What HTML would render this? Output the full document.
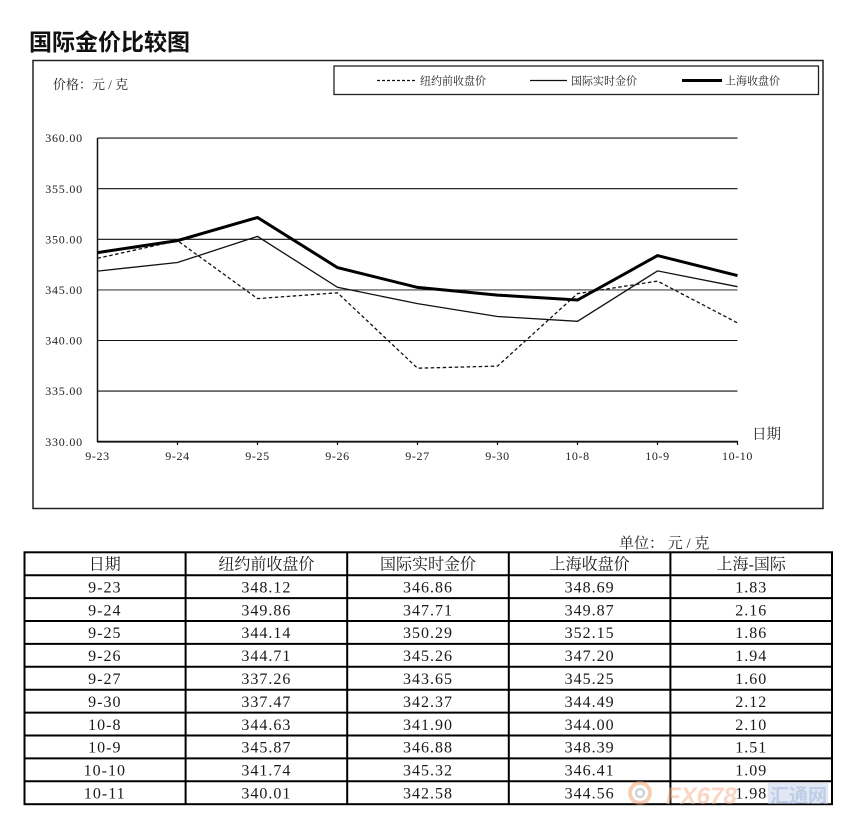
<!DOCTYPE html>
<html><head><meta charset="utf-8"><style>
html,body{margin:0;padding:0;background:#fff;}
body{width:845px;height:829px;overflow:hidden;}
svg{display:block;}
.s{font-family:"Liberation Serif","Noto Serif CJK SC",serif;}
</style></head><body>
<svg width="845" height="829" viewBox="0 0 845 829" xmlns="http://www.w3.org/2000/svg">
<rect width="845" height="829" fill="#fff"/>
<text x="29" y="50" font-family="'Liberation Sans','Noto Sans CJK SC',sans-serif" font-size="23" font-weight="bold" fill="#111">国际金价比较图</text>
<rect x="33" y="60.5" width="790" height="448" fill="none" stroke="#222" stroke-width="1.5"/>
<text class="s" x="53" y="89" font-size="13" fill="#222">价格：元 / 克</text>
<rect x="334" y="66" width="484.5" height="28.5" fill="none" stroke="#222" stroke-width="1.3"/>
<line x1="377" y1="80.5" x2="417" y2="80.5" stroke="#111" stroke-width="1.3" stroke-dasharray="3,2"/>
<text class="s" x="420" y="84.5" font-size="11" fill="#222">纽约前收盘价</text>
<line x1="530" y1="80.5" x2="567" y2="80.5" stroke="#111" stroke-width="1.3"/>
<text class="s" x="571" y="84.5" font-size="11" fill="#222">国际实时金价</text>
<line x1="682" y1="80.5" x2="722" y2="80.5" stroke="#000" stroke-width="3"/>
<text class="s" x="725" y="84.5" font-size="11" fill="#222">上海收盘价</text>
<g stroke="#111" stroke-width="1.1">
<line x1="97.5" y1="138.1" x2="737.5" y2="138.1"/>
<line x1="97.5" y1="188.7" x2="737.5" y2="188.7"/>
<line x1="97.5" y1="239.3" x2="737.5" y2="239.3"/>
<line x1="97.5" y1="289.9" x2="737.5" y2="289.9" stroke="#444"/>
<line x1="97.5" y1="340.5" x2="737.5" y2="340.5"/>
<line x1="97.5" y1="391.1" x2="737.5" y2="391.1"/>
</g>
<line x1="97.5" y1="138" x2="97.5" y2="442" stroke="#111" stroke-width="1.5"/>
<line x1="97" y1="441.7" x2="738" y2="441.7" stroke="#111" stroke-width="1.8"/>
<g stroke="#111" stroke-width="1.2">
<line x1="177.5" y1="441" x2="177.5" y2="445"/><line x1="257.5" y1="441" x2="257.5" y2="445"/>
<line x1="337.5" y1="441" x2="337.5" y2="445"/><line x1="417.5" y1="441" x2="417.5" y2="445"/>
<line x1="497.5" y1="441" x2="497.5" y2="445"/><line x1="577.5" y1="441" x2="577.5" y2="445"/>
<line x1="657.5" y1="441" x2="657.5" y2="445"/><line x1="737.5" y1="441" x2="737.5" y2="445"/>
</g>
<g class="s" font-size="12" fill="#222" text-anchor="end" letter-spacing="0.8">
<text x="83" y="142">360.00</text><text x="83" y="193">355.00</text><text x="83" y="243.5">350.00</text>
<text x="83" y="294">345.00</text><text x="83" y="344.5">340.00</text><text x="83" y="395">335.00</text>
<text x="83" y="446">330.00</text>
</g>
<g class="s" font-size="12" fill="#222" text-anchor="middle" letter-spacing="0.6">
<text x="97.5" y="460">9-23</text><text x="177.5" y="460">9-24</text><text x="257.5" y="460">9-25</text>
<text x="337.5" y="460">9-26</text><text x="417.5" y="460">9-27</text><text x="497.5" y="460">9-30</text>
<text x="577.5" y="460">10-8</text><text x="657.5" y="460">10-9</text><text x="737.5" y="460">10-10</text>
</g>
<text class="s" x="752" y="439" font-size="14.5" fill="#222">日期</text>
<polyline fill="none" stroke="#111" stroke-width="1.3" stroke-dasharray="3.5,2.5" points="97.5,258.3 177.5,240.7 257.5,298.6 337.5,292.8 417.5,368.2 497.5,366.1 577.5,293.6 657.5,281.1 737.5,322.9"/>
<polyline fill="none" stroke="#111" stroke-width="1.3" points="97.5,271.1 177.5,262.5 257.5,236.4 337.5,287.3 417.5,303.6 497.5,316.5 577.5,321.3 657.5,270.9 737.5,286.7"/>
<polyline fill="none" stroke="#000" stroke-width="3" stroke-linejoin="miter" points="97.5,252.6 177.5,240.6 257.5,217.5 337.5,267.6 417.5,287.4 497.5,295.1 577.5,300.0 657.5,255.6 737.5,275.6"/>
<text class="s" x="619" y="548" font-size="15" fill="#222">单位： 元 / 克</text>
<g class="s" font-size="16" fill="#1a1a1a" text-anchor="middle">
<text x="104.8" y="569.5">日期</text><text x="266.4" y="569.5">纽约前收盘价</text><text x="428" y="569.5">国际实时金价</text><text x="589.6" y="569.5">上海收盘价</text><text x="751.2" y="569.5">上海-国际</text>
</g>
<g class="s" font-size="16" fill="#1a1a1a" text-anchor="middle" letter-spacing="1">
<text x="104.8" y="592.4">9-23</text><text x="266.4" y="592.4">348.12</text><text x="428" y="592.4">346.86</text><text x="589.6" y="592.4">348.69</text><text x="751.2" y="592.4">1.83</text>
<text x="104.8" y="615.3">9-24</text><text x="266.4" y="615.3">349.86</text><text x="428" y="615.3">347.71</text><text x="589.6" y="615.3">349.87</text><text x="751.2" y="615.3">2.16</text>
<text x="104.8" y="638.2">9-25</text><text x="266.4" y="638.2">344.14</text><text x="428" y="638.2">350.29</text><text x="589.6" y="638.2">352.15</text><text x="751.2" y="638.2">1.86</text>
<text x="104.8" y="661.1">9-26</text><text x="266.4" y="661.1">344.71</text><text x="428" y="661.1">345.26</text><text x="589.6" y="661.1">347.20</text><text x="751.2" y="661.1">1.94</text>
<text x="104.8" y="684">9-27</text><text x="266.4" y="684">337.26</text><text x="428" y="684">343.65</text><text x="589.6" y="684">345.25</text><text x="751.2" y="684">1.60</text>
<text x="104.8" y="706.9">9-30</text><text x="266.4" y="706.9">337.47</text><text x="428" y="706.9">342.37</text><text x="589.6" y="706.9">344.49</text><text x="751.2" y="706.9">2.12</text>
<text x="104.8" y="729.8">10-8</text><text x="266.4" y="729.8">344.63</text><text x="428" y="729.8">341.90</text><text x="589.6" y="729.8">344.00</text><text x="751.2" y="729.8">2.10</text>
<text x="104.8" y="752.7">10-9</text><text x="266.4" y="752.7">345.87</text><text x="428" y="752.7">346.88</text><text x="589.6" y="752.7">348.39</text><text x="751.2" y="752.7">1.51</text>
<text x="104.8" y="775.6">10-10</text><text x="266.4" y="775.6">341.74</text><text x="428" y="775.6">345.32</text><text x="589.6" y="775.6">346.41</text><text x="751.2" y="775.6">1.09</text>
<text x="104.8" y="798.5">10-11</text><text x="266.4" y="798.5">340.01</text><text x="428" y="798.5">342.58</text><text x="589.6" y="798.5">344.56</text><text x="751.2" y="798.5">1.98</text>
</g>
<g stroke="#000" stroke-width="2" fill="none">
<rect x="24.5" y="552.3" width="807.5" height="251.9"/>
<line x1="185.6" y1="552.3" x2="185.6" y2="804.2"/><line x1="347.2" y1="552.3" x2="347.2" y2="804.2"/>
<line x1="508.8" y1="552.3" x2="508.8" y2="804.2"/><line x1="670.4" y1="552.3" x2="670.4" y2="804.2"/>
<line x1="24.5" y1="575.2" x2="832" y2="575.2"/><line x1="24.5" y1="598.1" x2="832" y2="598.1"/>
<line x1="24.5" y1="621" x2="832" y2="621"/><line x1="24.5" y1="643.9" x2="832" y2="643.9"/>
<line x1="24.5" y1="666.8" x2="832" y2="666.8"/><line x1="24.5" y1="689.7" x2="832" y2="689.7"/>
<line x1="24.5" y1="712.6" x2="832" y2="712.6"/><line x1="24.5" y1="735.5" x2="832" y2="735.5"/>
<line x1="24.5" y1="758.4" x2="832" y2="758.4"/><line x1="24.5" y1="781.3" x2="832" y2="781.3"/>
</g>
<g opacity="0.5">
<circle cx="640" cy="793" r="10" fill="none" stroke="#f0a070" stroke-width="4"/>
<circle cx="640" cy="793" r="4" fill="none" stroke="#9ab" stroke-width="2.5"/>
<text x="666" y="804" font-family="'Liberation Sans',sans-serif" font-size="24" font-weight="bold" font-style="italic" fill="#f5b08a">FX678</text>
<rect x="768" y="783" width="60" height="21" fill="#c5d3ea"/>
<text x="770" y="802" font-family="'Liberation Sans','Noto Sans CJK SC',sans-serif" font-size="19" font-weight="bold" fill="#7f9bcc">汇通网</text>
</g>
</svg>
</body></html>
